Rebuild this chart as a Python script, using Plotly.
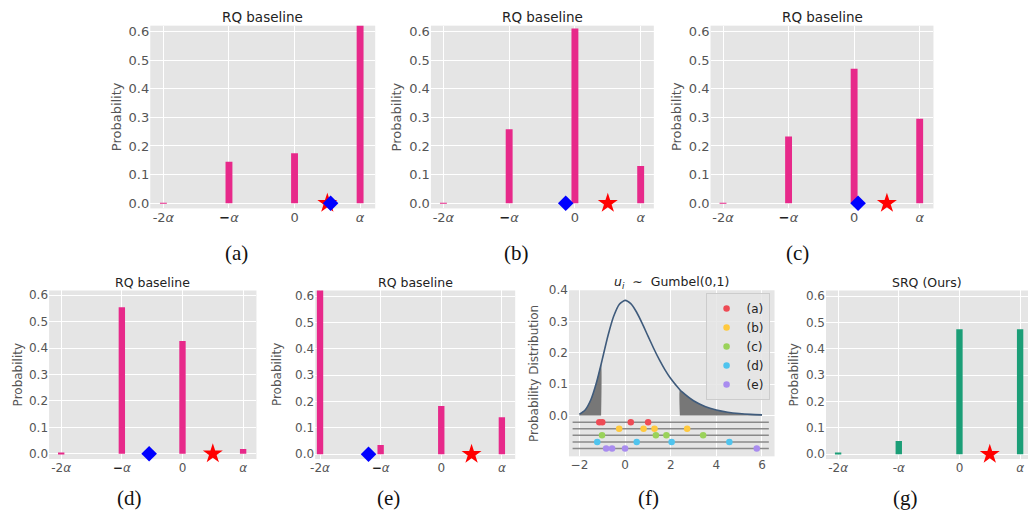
import plotly.graph_objects as go

W, H = 1028, 518

# ---- data -------------------------------------------------------------
BIN_POS = [-2, -1, 0, 1]
TICKS_RQ = ["-2<i>α</i>", "<span style='color:#222'><b>−</b></span><i>α</i>", "0", "<i>α</i>"]
TICKS_SRQ = ["-2<i>α</i>", "-<i>α</i>", "0", "<i>α</i>"]

PROB_A = [0.002, 0.145, 0.175, 0.678]
PROB_B = [0.002, 0.258, 0.610, 0.130]
PROB_C = [0.002, 0.233, 0.470, 0.295]
PROB_D = [0.003, 0.555, 0.427, 0.018]
PROB_E = [0.642, 0.035, 0.183, 0.140]
PROB_G = [0.003, 0.050, 0.475, 0.475]

STAR_X = 0.5                                   # full-precision value
DIAMOND_X = [0.55, -0.14, 0.06, -0.55, -1.20]  # perturbed value, panels a-e

# Gumbel(0,1) density
GUMBEL_X = [-2.0, -1.75, -1.5, -1.25, -1.05, -1.0, -0.75, -0.5, -0.25, 0.0,
            0.25, 0.5, 0.75, 1.0, 1.25, 1.5, 1.75, 2.0, 2.4, 2.5, 3.0,
            3.5, 4.0, 4.5, 5.0, 5.5, 6.0]
GUMBEL_PDF = [0.0046, 0.0182, 0.0507, 0.1065, 0.164, 0.1794, 0.2549, 0.3170,
              0.3556, 0.3679, 0.3574, 0.3307, 0.2945, 0.2546, 0.2151, 0.1785,
              0.1460, 0.1182, 0.0828, 0.0756, 0.0474, 0.0293, 0.0180, 0.0110,
              0.0067, 0.0041, 0.0025]
LEFT_TAIL_END = -1.05
RIGHT_TAIL_START = 2.4

SAMPLE_NAMES = ["(a)", "(b)", "(c)", "(d)", "(e)"]
SAMPLE_COLORS = ["#EE4B55", "#FFC93E", "#9AD25A", "#4FC4EE", "#A98CEF"]
SAMPLES = [
    [-1.13, -1.00, 0.25, 1.01],
    [-0.26, 0.81, 1.29, 2.72],
    [-1.01, 1.35, 1.81, 3.42],
    [-1.22, 0.51, 2.04, 4.57],
    [-0.83, -0.57, 0.00, 5.77],
]
SAMPLE_ROWS = [-0.021, -0.042, -0.063, -0.084, -0.105]
ROW_SPAN = [-2.3, 6.3]

# ---- style ------------------------------------------------------------
PINK = "#E7298A"
GREEN = "#1B9E77"
BG = "#E5E5E5"
TICK_COLOR = "#555555"
FONT = "DejaVu Sans"


def px_x(p):
    return p / W


def px_y(p):
    return 1 - p / H


# panel layout: plot-area box in px, axis ranges, title, caption and label placement
PANELS = [
    dict(box=(146, 19, 372, 205), xr=[-2.2, 1.23], yr=[-0.018, 0.62], probs=PROB_A, color=PINK,
         ticks=TICKS_RQ, dia=DIAMOND_X[0], title="RQ baseline", cap="(a)", capx=233, ylx=111.7, fs=13),
    dict(box=(428, 19, 652, 205), xr=[-2.19, 1.2], yr=[-0.018, 0.62], probs=PROB_B, color=PINK,
         ticks=TICKS_RQ, dia=DIAMOND_X[1], title="RQ baseline", cap="(b)", capx=514, ylx=393.3, fs=13),
    dict(box=(709, 19, 933, 205), xr=[-2.19, 1.21], yr=[-0.018, 0.62], probs=PROB_C, color=PINK,
         ticks=TICKS_RQ, dia=DIAMOND_X[2], title="RQ baseline", cap="(c)", capx=796, ylx=674.3, fs=13),
    dict(box=(44.3, 288.5, 252.7, 460), xr=[-2.2, 1.22], yr=[-0.02, 0.618], probs=PROB_D, color=PINK,
         ticks=TICKS_RQ, dia=DIAMOND_X[3], title="RQ baseline", cap="(d)", capx=125, ylx=12.7, fs=12),
    dict(box=(311.7, 288.5, 512.7, 460), xr=[-2.08, 1.22], yr=[-0.018, 0.621], probs=PROB_E, color=PINK,
         ticks=TICKS_RQ, dia=DIAMOND_X[4], title="RQ baseline", cap="(e)", capx=385, ylx=272.7, fs=12),
    dict(box=(825, 288.5, 1028, 460), xr=[-2.2, 1.13], yr=[-0.018, 0.622], probs=PROB_G, color=GREEN,
         ticks=TICKS_SRQ, dia=None, title="SRQ (Ours)", cap="(g)", capx=905, ylx=792.7, fs=12),
]
GUMBEL_PANEL = dict(box=(566.7, 288.3, 773.3, 457.3), xr=[-2.46, 6.55], yr=[-0.13, 0.40],
                    cap="(f)", capx=647, ylx=532.3, fs=12)

fig = go.Figure()
annotations = []


def axis_common(fs):
    return dict(showgrid=True, gridcolor="white", gridwidth=1.3, zeroline=False,
                showline=False, ticks="", fixedrange=True,
                tickfont=dict(family=FONT, size=fs, color=TICK_COLOR))


layout_axes = {}
for i, p in enumerate(PANELS):
    n = "" if i == 0 else str(i + 1)
    xa, ya = "x" + n, "y" + n
    x0, y0, x1, y1 = p["box"]
    layout_axes["xaxis" + n] = dict(axis_common(p["fs"]), domain=[px_x(x0), px_x(x1)], range=p["xr"],
                                    tickmode="array", tickvals=BIN_POS, ticktext=p["ticks"], anchor=ya)
    layout_axes["yaxis" + n] = dict(axis_common(p["fs"]), domain=[px_y(y1), px_y(y0)], range=p["yr"],
                                    tickmode="array", tickvals=[0, 0.1, 0.2, 0.3, 0.4, 0.5, 0.6],
                                    tickformat=".1f", anchor=xa)
    fig.add_trace(go.Bar(x=BIN_POS, y=p["probs"], width=0.105, marker=dict(color=p["color"], line_width=0),
                         xaxis=xa, yaxis=ya, showlegend=False, hoverinfo="skip"))
    fig.add_trace(go.Scatter(x=[STAR_X], y=[0], mode="markers", xaxis=xa, yaxis=ya, showlegend=False,
                             marker=dict(symbol="star", size=15, color="#FF0000", line=dict(width=0)),
                             cliponaxis=False, hoverinfo="skip"))
    if p["dia"] is not None:
        fig.add_trace(go.Scatter(x=[p["dia"]], y=[0], mode="markers", xaxis=xa, yaxis=ya, showlegend=False,
                                 marker=dict(symbol="diamond", size=12, color="#0000FF", line=dict(width=0)),
                                 cliponaxis=False, hoverinfo="skip"))
    cx = (x0 + x1) / 2
    ty = 10 if y0 < 100 else 280
    annotations.append(dict(text=p["title"], x=px_x(cx), y=px_y(ty), xref="paper", yref="paper",
                            showarrow=False, xanchor="center", yanchor="middle",
                            font=dict(family=FONT, size=p["fs"] + 0.5, color="#222")))
    annotations.append(dict(text="Probability", x=px_x(p["ylx"]), y=px_y((y0 + y1) / 2), xref="paper",
                            yref="paper", showarrow=False, textangle=-90, xanchor="center", yanchor="middle",
                            font=dict(family=FONT, size=p["fs"], color=TICK_COLOR)))
    cy = 250 if y0 < 100 else 500
    annotations.append(dict(text=p["cap"], x=px_x(p["capx"]), y=px_y(cy), xref="paper", yref="paper",
                            showarrow=False, xanchor="center", yanchor="middle",
                            font=dict(family="Liberation Serif", size=21, color="#111")))

# ---- Gumbel panel (f) ------------------------------------------------------
g = GUMBEL_PANEL
x0, y0, x1, y1 = g["box"]
layout_axes["xaxis7"] = dict(axis_common(g["fs"]), domain=[px_x(x0), px_x(x1)], range=g["xr"],
                             tickmode="array", tickvals=[-2, 0, 2, 4, 6], anchor="y7")
layout_axes["yaxis7"] = dict(axis_common(g["fs"]), domain=[px_y(y1), px_y(y0)], range=g["yr"],
                             tickmode="array", tickvals=[0, 0.1, 0.2, 0.3, 0.4], tickformat=".1f",
                             anchor="x7")

left_idx = [k for k, v in enumerate(GUMBEL_X) if v <= LEFT_TAIL_END]
right_idx = [k for k, v in enumerate(GUMBEL_X) if v >= RIGHT_TAIL_START]
for idx in (left_idx, right_idx):
    xs = [GUMBEL_X[k] for k in idx]
    ys = [GUMBEL_PDF[k] for k in idx]
    fig.add_trace(go.Scatter(x=[xs[0]] + xs + [xs[-1]], y=[0] + ys + [0], mode="lines", fill="toself",
                             fillcolor="#777777", line=dict(width=0, shape="spline", smoothing=0.6),
                             xaxis="x7", yaxis="y7", showlegend=False, hoverinfo="skip"))
fig.add_trace(go.Scatter(x=GUMBEL_X, y=GUMBEL_PDF, mode="lines",
                         line=dict(color="#3F5B7C", width=1.6, shape="spline", smoothing=0.6),
                         xaxis="x7", yaxis="y7", showlegend=False, hoverinfo="skip"))
for row_y in SAMPLE_ROWS:
    fig.add_trace(go.Scatter(x=ROW_SPAN, y=[row_y, row_y], mode="lines",
                             line=dict(color="#8A8A8A", width=1.5),
                             xaxis="x7", yaxis="y7", showlegend=False, hoverinfo="skip"))
for name, color, xs, row_y in zip(SAMPLE_NAMES, SAMPLE_COLORS, SAMPLES, SAMPLE_ROWS):
    fig.add_trace(go.Scatter(x=xs, y=[row_y] * len(xs), mode="markers", name=name,
                             marker=dict(color=color, size=6.5, line=dict(width=0)),
                             xaxis="x7", yaxis="y7", showlegend=True, hoverinfo="skip"))

annotations.append(dict(text="<i>u</i><sub><i>i</i></sub>  ∼  Gumbel(0,1)", x=px_x((x0 + x1) / 2),
                        y=px_y(280), xref="paper", yref="paper", showarrow=False,
                        xanchor="center", yanchor="middle",
                        font=dict(family=FONT, size=12.5, color="#222")))
annotations.append(dict(text="Probability Distribution", x=px_x(g["ylx"]), y=px_y((y0 + y1) / 2),
                        xref="paper", yref="paper", showarrow=False, textangle=-90,
                        xanchor="center", yanchor="middle",
                        font=dict(family=FONT, size=g["fs"], color=TICK_COLOR)))
annotations.append(dict(text=g["cap"], x=px_x(g["capx"]), y=px_y(500), xref="paper", yref="paper",
                        showarrow=False, xanchor="center", yanchor="middle",
                        font=dict(family="Liberation Serif", size=21, color="#111")))

fig.update_layout(
    width=W, height=H,
    margin=dict(l=0, r=0, t=0, b=0),
    paper_bgcolor="white",
    plot_bgcolor=BG,
    font=dict(family=FONT, color=TICK_COLOR),
    annotations=annotations,
    legend=dict(x=px_x(704), y=px_y(291), xanchor="left", yanchor="top",
                bgcolor="rgba(229,229,229,0.85)", bordercolor="#CCCCCC", borderwidth=1,
                font=dict(family=FONT, size=12, color="#222"), itemsizing="trace",
                tracegroupgap=0),
    **layout_axes,
)

fig.write_html("out.html")
